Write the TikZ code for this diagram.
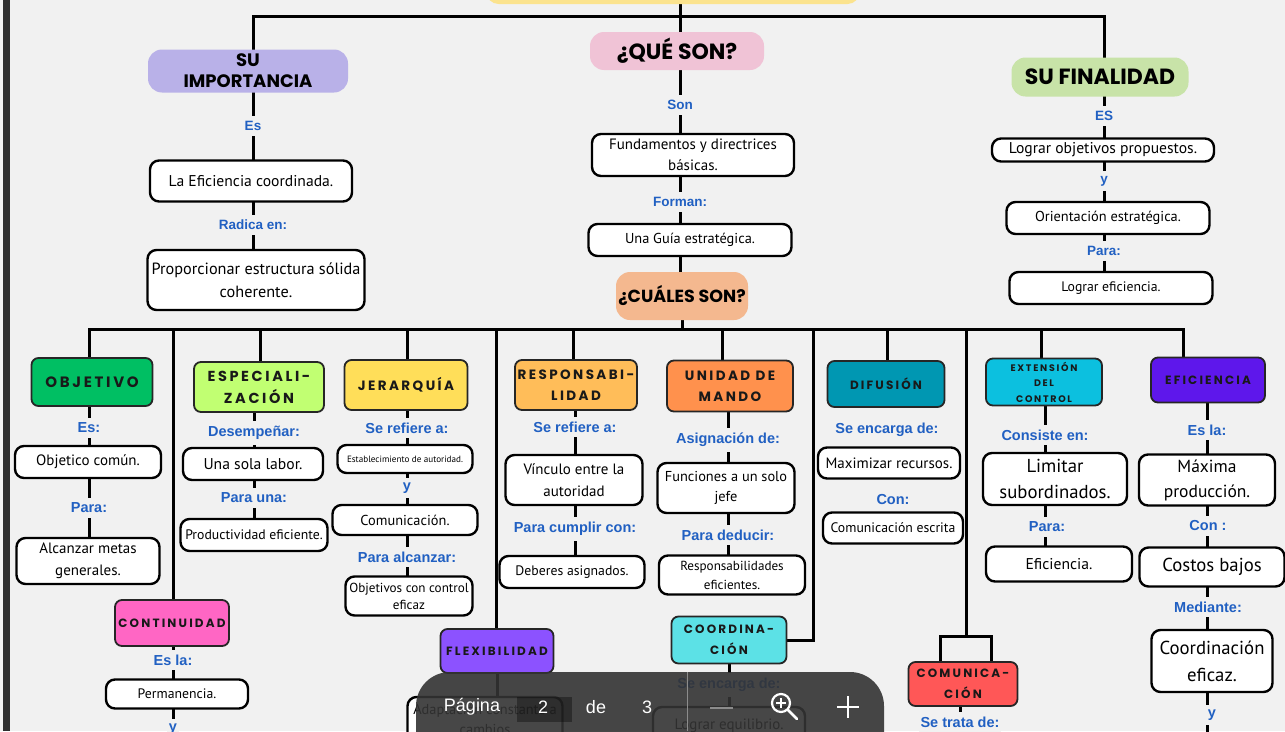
\documentclass[tikz,border=0pt]{standalone}
\usepackage{fontspec}
\setmainfont{PT Sans}
\newfontfamily\handfont{PT Sans}
\newfontfamily\labfont{Liberation Sans}
\newfontfamily\catfont{Poppins}[LetterSpace=18]
\newfontfamily\headfont{Poppins}
\definecolor{pagebg}{HTML}{F1F1F1}
\definecolor{labblue}{HTML}{2160C2}
\definecolor{leftbar}{HTML}{2F2F2F}
\definecolor{titleyel}{HTML}{FBE38E}
\definecolor{lavhead}{HTML}{B9B1E8}
\definecolor{pinkhead}{HTML}{F0C3D6}
\definecolor{greenhead}{HTML}{C8E3A8}
\definecolor{orahead}{HTML}{F4B88F}
\definecolor{objcol}{HTML}{00BF63}
\definecolor{espcol}{HTML}{C1FF72}
\definecolor{jercol}{HTML}{FFDE59}
\definecolor{rescol}{HTML}{FFBD59}
\definecolor{unicol}{HTML}{FF914D}
\definecolor{difcol}{HTML}{0097B2}
\definecolor{extcol}{HTML}{0CC0DF}
\definecolor{eficol}{HTML}{5E17EB}
\definecolor{contcol}{HTML}{FF66C4}
\definecolor{flexcol}{HTML}{8C52FF}
\definecolor{coorcol}{HTML}{5CE1E6}
\definecolor{comcol}{HTML}{FF5757}
\definecolor{pagerbg}{HTML}{333333}
\pgfdeclarelayer{back}
\pgfdeclarelayer{front}
\pgfsetlayers{back,main,front}

\begin{document}
\begin{tikzpicture}[x=1pt,y=-1pt,
  link/.style={line width=3pt,black},
  sz/.style 2 args={minimum width=#1pt,minimum height=#2pt},
  leaf/.style={draw=black,line width=2.4pt,fill=white,rounded corners=9pt,align=center,inner sep=1pt,text=black},
  fz/.style 2 args={font=\handfont\fontsize{\fpeval{1.25*#1}}{#2}\selectfont},
  cat/.style={draw=black!85,line width=1.8pt,rounded corners=7pt,align=center,inner sep=1pt,text=black!90,font=\catfont\bfseries\fontsize{13.5}{21}\selectfont},
  cfz/.style 2 args={font=\catfont\bfseries\fontsize{#1}{#2}\selectfont},
  head/.style={rounded corners=14pt,align=center,inner sep=1pt,text=black,font=\headfont\bfseries\fontsize{#1}{21}\selectfont},
  lab/.style={fill=pagebg,text=labblue,inner xsep=2pt,inner ysep=5pt,font=\labfont\bfseries\fontsize{14.5}{16}\selectfont},
  toplab/.style={lab,font=\labfont\bfseries\fontsize{13.5}{16}\selectfont},
  pgtext/.style={text=white,font=\labfont\fontsize{18}{20}\selectfont}]
\useasboundingbox (0,0) rectangle (1285,731);
\clip (0,0) rectangle (1285,731);

\node[fill=titleyel,rounded corners=12pt,sz={373}{40}] (title) at (673,-16) {};
\coordinate (tl) at (253,16);
\coordinate (tr) at (1104,16);

\node[head=18,fill=lavhead,sz={200}{43}] (imp) at (248,71) {SU\\IMPORTANCIA};
\node[toplab] (impEs) at (253,126) {Es};
\node[leaf,sz={202}{41},fz={12.5}{15}] (impEf) at (251,181) {La Eficiencia coordinada.};
\node[toplab] (impRad) at (253,225) {Radica en:};
\node[leaf,sz={217}{60},fz={13}{23}] (impProp) at (256,280) {Proporcionar estructura sólida\\coherente.};

\node[head=22,fill=pinkhead,sz={174}{38}] (que) at (677,51) {¿QUÉ SON?};
\node[toplab] (queSon) at (680,105) {Son};
\node[leaf,sz={202}{42},fz={12}{21}] (queFund) at (693,155) {Fundamentos y directrices\\básicas.};
\node[toplab] (queFor) at (680,202) {Forman:};
\node[leaf,sz={203}{32},fz={11.5}{14}] (queGuia) at (690,240) {Una Guía estratégica.};
\node[head=17.5,fill=orahead,sz={132}{48}] (cual) at (682,296) {¿CUÁLES SON?};

\node[head=22,fill=greenhead,sz={177}{39}] (fin) at (1100,77) {SU FINALIDAD};
\node[toplab] (finEs) at (1104,116) {ES};
\node[leaf,sz={222}{23},fz={12.5}{14}] (finLog) at (1103,150) {Lograr objetivos propuestos.};
\node[toplab] (finY) at (1104,181) {y};
\node[leaf,sz={203}{32},fz={11.5}{14}] (finOri) at (1108,218) {Orientación estratégica.};
\node[toplab] (finPara) at (1104,251) {Para:};
\node[leaf,sz={203}{32},fz={11}{14}] (finEfi) at (1111,288) {Lograr eficiencia.};

\coordinate (bl) at (89,329);
\coordinate (br) at (1183,329);

\node[cat,fill=objcol,sz={121}{48},cfz={15}{21}] (obj) at (92,382) {OBJETIVO};
\node[lab] (objEs) at (89,428) {Es:};
\node[leaf,sz={146}{32},fz={12}{14}] (objCom) at (88,462) {Objetico común.};
\node[lab] (objPara) at (89,508) {Para:};
\node[leaf,sz={143}{46},fz={12}{22}] (objMeta) at (88,561) {Alcanzar metas\\generales.};

\node[cat,fill=espcol,sz={130}{50},cfz={14.5}{22}] (esp) at (259,387) {ESPECIALI-\\ZACIÓN};
\node[lab] (espDes) at (254,433) {Desempeñar:};
\node[leaf,sz={140}{32},fz={12.5}{14}] (espUna) at (253,464) {Una sola labor.};
\node[lab] (espPara) at (254,498) {Para una:};
\node[leaf,sz={147}{32},fz={11}{14}] (espProd) at (254,535) {Productividad eficiente.};

\node[cat,fill=jercol,sz={123}{50}] (jer) at (406,385) {JERARQUÍA};
\node[lab] (jerRef) at (407,428) {Se refiere a:};
\node[leaf,sz={135}{28},fz={7.3}{10}] (jerEst) at (405,459) {Establecimiento de autoridad.};
\node[lab] (jerY) at (407,488) {y};
\node[leaf,sz={145}{30},fz={11.5}{14}] (jerCom) at (405,520) {Comunicación.};
\node[lab] (jerPara) at (407,557) {Para alcanzar:};
\node[leaf,sz={127}{39},fz={10.5}{17}] (jerObj) at (409,596) {Objetivos con control\\eficaz};

\node[cat,fill=rescol,sz={122}{50}] (res) at (576,385) {RESPONSABI-\\LIDAD};
\node[lab] (resRef) at (575,427) {Se refiere a:};
\node[leaf,sz={137}{50},fz={12}{22}] (resVin) at (574,480) {Vínculo entre la\\autoridad};
\node[lab] (resPara) at (575,529) {Para cumplir con:};
\node[leaf,sz={145}{32},fz={11}{14}] (resDeb) at (572,572) {Deberes asignados.};

\node[cat,fill=unicol,sz={126}{51}] (uni) at (730,386) {UNIDAD DE\\MANDO};
\node[lab] (uniAsi) at (728,440) {Asignación de:};
\node[leaf,sz={137}{50},fz={11.5}{20}] (uniFun) at (726,488) {Funciones a un solo\\jefe};
\node[lab] (uniPara) at (728,535) {Para deducir:};
\node[leaf,sz={146}{39},fz={10.5}{19}] (uniResp) at (732,575) {Responsabilidades\\eficientes.};

\node[cat,fill=difcol,sz={117}{46},cfz={12}{21}] (dif) at (886,384) {DIFUSIÓN};
\node[lab] (difEnc) at (887,430) {Se encarga de:};
\node[leaf,sz={142}{31},fz={12}{14}] (difMax) at (889,463) {Maximizar recursos.};
\node[lab] (difCon) at (893,500) {Con:};
\node[leaf,sz={140}{31},fz={11}{14}] (difCom) at (893,528) {Comunicación escrita};

\node[cat,fill=extcol,sz={116}{47},cfz={9.5}{15.5}] (ext) at (1044,382) {EXTENSIÓN\\DEL\\CONTROL};
\node[lab] (extCon) at (1045,435) {Consiste en:};
\node[leaf,sz={144}{52},fz={15}{26}] (extLim) at (1055,479) {Limitar\\subordinados.};
\node[lab] (extPara) at (1047,527) {Para:};
\node[leaf,sz={146}{35},fz={12.5}{14}] (extEfi) at (1059,564) {Eficiencia.};

\node[cat,fill=eficol,sz={114}{45},cfz={12}{21}] (efi) at (1208,380) {EFICIENCIA};
\node[lab] (efiEs) at (1207,430) {Es la:};
\node[leaf,sz={136}{51},fz={14}{25}] (efiMax) at (1207,480) {Máxima\\producción.};
\node[lab] (efiCon) at (1208,526) {Con :};
\node[leaf,sz={145}{39},fz={15}{17}] (efiCos) at (1212,567) {Costos bajos};
\node[lab] (efiMed) at (1208,607) {Mediante:};
\node[leaf,sz={121}{62},fz={15}{27}] (efiCoor) at (1212,661) {Coordinación\\eficaz.};
\node[lab] (efiY) at (1212,715) {y};
\coordinate (efiEnd) at (1212,745);

\node[cat,fill=contcol,sz={114}{46},cfz={12}{21}] (cont) at (172,623) {CONTINUIDAD};
\node[lab] (contEs) at (173,660) {Es la:};
\node[leaf,sz={142}{29},fz={11}{14}] (contPer) at (177,694) {Permanencia.};
\node[lab] (contY) at (173,729) {y};
\coordinate (contEnd) at (173,745);

\node[cat,fill=flexcol,sz={113}{44},cfz={12}{21}] (flex) at (497,651) {FLEXIBILIDAD};
\node[leaf,sz={155}{44},fz={11.5}{20}] (flexAd) at (485,719) {Adaptación constante a\\cambios};

\coordinate (k1) at (813,640);
\node[cat,fill=coorcol,sz={115}{47},cfz={12}{21}] (coor) at (729,640) {COORDINA-\\CIÓN};
\node[lab] (coorEnc) at (729,685) {Se encarga de:};
\node[leaf,sz={152}{38},fz={12}{14}] (coorLog) at (729,726) {Lograr equilibrio.};

\coordinate (k2) at (966,636);
\coordinate (k2a) at (940,636);
\coordinate (k2b) at (991,636);
\node[cat,fill=comcol,sz={109}{44},cfz={12}{21}] (com) at (963,684) {COMUNICA-\\CIÓN};
\node[lab] (comTra) at (960,722) {Se trata de:};
\coordinate (comEnd) at (963,745);

\begin{pgfonlayer}{back}
\fill[pagebg] (0,0) rectangle (1285,731);
\fill[leftbar] (3,0) rectangle (10,731);
\draw[link] (queSon |- title) -- (queSon |- cual);
\draw[link] (tl |- imp) -- (tl) -- (tr) -- (tr |- fin);
\draw[link] (impEs |- imp) -- (impEs |- impProp);
\draw[link] (finEs |- fin) -- (finEs |- finEfi);
\draw[link] (cual) -- (cual |- bl);
\draw[link] (bl |- obj.north) -- (bl) -- (br) -- (br |- efi.north);
\foreach \c/\x in {cont/173,esp/260,jer/407,flex/496,res/573,uni/722,dif/887,ext/1041}
  \draw[link] (\x,329) -- (\x,0 |- \c.north);
\draw[link] (k1 |- bl) -- (k1) -- (coor);
\draw[link] (k2 |- bl) -- (k2);
\draw[link] (k2a |- com.north) -- (k2a) -- (k2b) -- (k2b |- com.north);
\foreach \c/\l/\e in {obj/objEs/objMeta,esp/espDes/espProd,jer/jerRef/jerObj,res/resRef/resDeb,uni/uniAsi/uniResp,ext/extCon/extEfi,efi/efiEs/efiEnd,cont/contEs/contEnd,coor/coorEnc/coorLog,com/comTra/comEnd}
  \draw[link] (\l |- \c) -- (\l |- \e);
\draw[link] (flex) -- (flex |- flexAd);
\end{pgfonlayer}

\begin{pgfonlayer}{front}
\node[fill=pagerbg,fill opacity=0.9,rounded corners=34pt,sz={468}{100}] (pager) at (650,722) {};
\node[fill=black,fill opacity=0.35,sz={55}{25}] (pgField) at (544,709) {};
\node[pgtext] (pgWord) at (472,707) {Página};
\node[pgtext] (pgNum) at (543,707) {2};
\node[pgtext] (pgDe) at (596,707) {de};
\node[pgtext] (pgTot) at (647,707) {3};
\draw[black!45,line width=0.8pt] (687,672) -- (687,731);
\draw[black!45,line width=2.5pt] (710,708) -- (733,708);
\draw[white,line width=2.2pt] (781,703) circle (9pt);
\draw[white,line width=1.8pt] (776,703) -- (786,703) (781,698) -- (781,708);
\draw[white,line width=2.6pt,line cap=round] (788,710) -- (797,719);
\draw[white,line width=2.6pt] (837,707) -- (859,707) (848,696) -- (848,718);
\end{pgfonlayer}
\end{tikzpicture}
\end{document}
